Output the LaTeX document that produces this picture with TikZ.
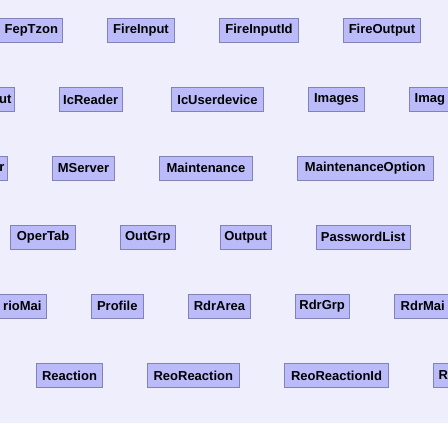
\documentclass[tikz,border=0pt]{standalone}
\usepackage{fontspec}
\setmainfont{Liberation Sans}
\definecolor{bgc}{RGB}{238,238,252}
\definecolor{boxfill}{RGB}{187,187,250}
\definecolor{boxline}{RGB}{130,130,185}
\begin{document}
\begin{tikzpicture}[x=1bp,y=1bp,
  tbl/.style={draw=boxline,fill=boxfill,line width=1bp,inner sep=0pt,outer sep=0pt,
    minimum height=24.4bp,font=\fontsize{13bp}{15bp}\selectfont\bfseries,text=black},
  lbl/.style={inner sep=0pt,outer sep=0pt,font=\fontsize{13bp}{15bp}\selectfont\bfseries,text=black}]
\clip (0,0) rectangle (448,-423);
\fill[bgc] (0,0) rectangle (448,-423);
% row 1
\node[tbl,minimum width=62.7bp] (feptzon) at (31.35,-30.5) {FepTzon};
\node[tbl,minimum width=67.4bp] (fireinput) at (141,-30.5) {FireInput};
\node[tbl,minimum width=79.4bp] (fireinputid) at (259,-30.5) {FireInputId};
\node[tbl,minimum width=77.4bp] (fireoutput) at (382,-30.5) {FireOutput};
% row 2
\node[tbl,minimum width=54.7bp] (cutA) at (-12.65,-99.5) {};
\node[lbl,anchor=east] (cutAt) at (11.5,-99.5) {ut};
\node[tbl,minimum width=62.7bp] (icreader) at (90.65,-99.5) {IcReader};
\node[tbl,minimum width=92.4bp] (icuserdevice) at (217.5,-99.5) {IcUserdevice};
\node[tbl,minimum width=56.4bp] (images) at (336.5,-99.5) {Images};
\node[tbl,minimum width=60.7bp] (cutB) at (439.65,-99.5) {};
\node[lbl,anchor=west] (cutBt) at (414.7,-99.5) {Imag};
% row 3
\node[tbl,minimum width=47.3bp] (cutC) at (-16.35,-168.25) {};
\node[lbl,anchor=east] (cutCt) at (4.5,-168.25) {r};
\node[tbl,minimum width=62.4bp] (mserver) at (83.5,-168.25) {MServer};
\node[tbl,minimum width=93.4bp] (maintenance) at (206,-168.25) {Maintenance};
\node[tbl,minimum width=136bp] (maintopt) at (365.3,-168.25) {MaintenanceOption};
% row 4
\node[tbl,minimum width=65.4bp] (opertab) at (43,-237.2) {OperTab};
\node[tbl,minimum width=55bp] (outgrp) at (147.8,-237.2) {OutGrp};
\node[tbl,minimum width=51.3bp] (output) at (245.65,-237.2) {Output};
\node[tbl,minimum width=93.7bp] (passwordlist) at (363.15,-237.2) {PasswordList};
% row 5
\node[tbl,minimum width=86bp] (cutD) at (3,-306.2) {};
\node[lbl,anchor=east] (cutDt) at (41.5,-306.2) {rioMai};
\node[tbl,minimum width=52bp] (profile) at (117.3,-306.2) {Profile};
\node[tbl,minimum width=61.6bp] (rdrarea) at (219.5,-306.2) {RdrArea};
\node[tbl,minimum width=54.3bp] (rdrgrp) at (322.15,-306.2) {RdrGrp};
\node[tbl,minimum width=75.7bp] (cutE) at (432.15,-306.2) {};
\node[lbl,anchor=west] (cutEt) at (400.7,-306.2) {RdrMai};
% row 6
\node[tbl,minimum width=66.4bp] (reaction) at (69.5,-375.5) {Reaction};
\node[tbl,minimum width=92bp] (reoreaction) at (193.3,-375.5) {ReoReaction};
\node[tbl,minimum width=104.4bp] (reoreactionid) at (336.5,-375.5) {ReoReactionId};
\node[tbl,minimum width=46.7bp] (cutF) at (456.65,-375.5) {};
\node[lbl,anchor=west] (cutFt) at (438.5,-375.5) {R};
\end{tikzpicture}
\end{document}
